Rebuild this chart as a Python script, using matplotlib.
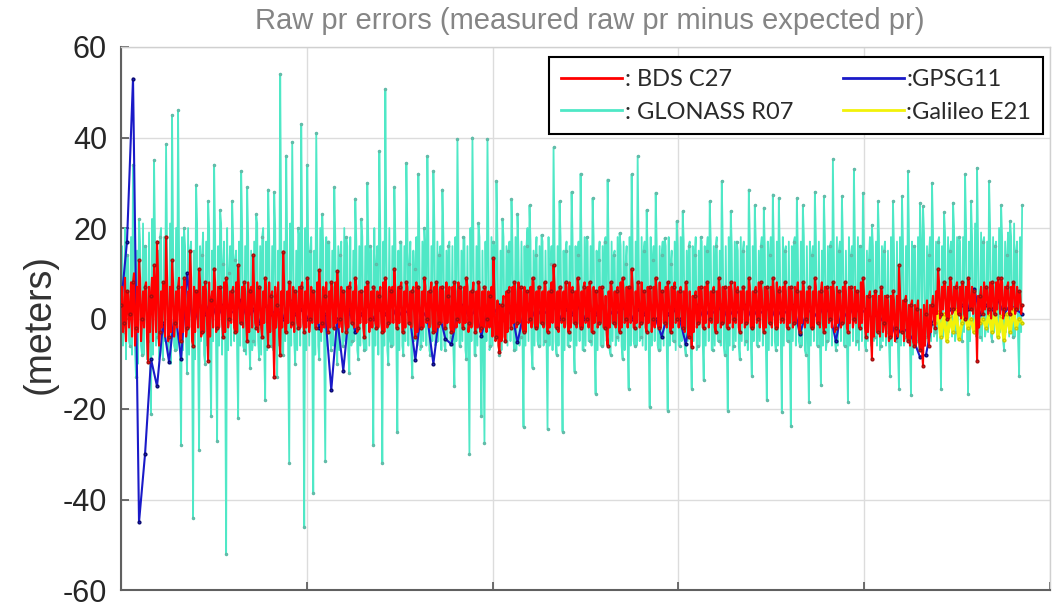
import numpy as np
import matplotlib.pyplot as plt
from matplotlib.lines import Line2D

plt.rcParams['font.family'] = ['Liberation Sans', 'DejaVu Sans']
plt.rcParams['axes.unicode_minus'] = False

# raw pseudorange errors (m), equally spaced in time
# *_r07 / *_c27: individual samples (spikes), *_band_hi / *_band_lo: the dense
# core of the trace read between two consecutive samples
glonass_r07 = [
    5, -3, 14, -6, 34, -13, 22, -8, 16, -5,
    -21, 35, -4, 18, -9, 38.5, -5, 45, -7, 46,
    -28, 20, -12, 15, -44, 29.6, -29, 14, -10, 26,
    -21.5, 34, -27, 24, 12, -52, 10, 26, 13, -22,
    32.6, -7, 29, -11, -5, 23, -9, 18, -18, 28.5,
    -6, 28, -13, 54, -8, 36, -32, 39, -10, 20,
    43, -46, 34, 15, -38.5, 41, -9, 23, -31.5, 17,
    -7, 29, -10, 14, -6, 18, -12, -5, 26.5, -9,
    22, -7, 30, 16, -28, 12, 37, -32, 50.7, -10,
    -6, 29, -25, 17, -8, 34.4, 12, -13, 11, 32,
    -6, 20, 35.9, -8, 32.6, -5, 14, 28.5, -7, 16,
    -4, -15, 39.6, -6, 18, -9, -30, 40, -8, 21,
    -21.5, -27.5, 39.6, -6, 17, 30.4, -8, 22, -5, 15,
    26.3, -7, 23, -4, -24, 16, 25, -11, 14, -6,
    18.5, -5, -24.5, 12, 37.8, -8, 25.9, -25, 15, -6,
    28, -11.8, 14, 32, -7, 18, -5, 26.6, -16.7, 13,
    -6, 17, 30.7, -8, 14, -4, 18.9, -9, 12, -15.5,
    31.9, -6, 35.9, -4, 15, 24, -19.6, 13, 27.8, -7,
    14, 17.8, -20.4, 12, -5, 21.5, -6, 23.7, -8, 16,
    -15.5, 14, -6, 18, -13.7, 15, 25.9, -7, 16, -5,
    30.4, -8, -20.4, 23.7, -6, 17, -9, 15, -5, 28.5,
    -12.6, 25, -6, 16, 24.5, -18, 14, 27.4, -7, 26.6,
    -20.7, 15, -5, -23.7, 17, 26.6, -6, 25, -8, -18.5,
    14, 28, -6, -14.8, 27, -5, 16, 35.2, -7, 15,
    27, -6, -18.5, 14, 33, -5, 16, 27.8, -7, 13,
    20.7, -4, 25.9, -6, 15, -3, -12.6, 25.9, -5, -15.5,
    27, -4, 32.6, -17, 16, -5, 25.5, 24.8, -4, 14,
    30, -3, 17, -15.5, 23.5, -4, 15, 25.6, -3, 18,
    -5, 31.9, -16.7, 25.9, -3, 33.3, -4, 17, -2, 30.4,
    -5, 16, -3, 25, -7, 14, 21.5, -4, 15, -12.6,
    25,
]
glonass_band_hi = [
    16, 20, 14, 18, 22, 15, 17, 21, 16, 19,
    22, 17, 15, 20, 18, 16, 21, 17, 20, 15,
    18, 16, 20, 17, 15, 21, 16, 19, 17, 20,
    15, 18, 16, 21, 17, 20, 16, 18, 15, 17,
    20, 16, 18, 15, 17, 21, 16, 20, 17, 18,
    16, 20, 15, 18, 17, 16, 21, 17, 15, 18,
    17, 20, 16, 18, 15, 17, 20, 16, 18, 17,
    15, 18, 16, 17, 20, 16, 18, 15, 17, 16,
    18, 16, 17, 15, 20, 16, 18, 17, 16, 20,
    16, 18, 15, 17, 16, 20, 17, 15, 18, 16,
    17, 15, 18, 16, 20, 17, 16, 18, 15, 17,
    16, 18, 17, 15, 18, 16, 20, 17, 16, 18,
    15, 17, 16, 18, 16, 17, 15, 18, 16, 17,
    16, 18, 15, 17, 16, 20, 17, 15, 18, 16,
    17, 15, 18, 16, 17, 16, 18, 15, 17, 16,
    18, 16, 17, 15, 18, 17, 16, 18, 15, 17,
    16, 18, 16, 17, 15, 18, 16, 17, 16, 18,
    15, 17, 16, 18, 17, 15, 18, 16, 17, 16,
    17, 16, 18, 15, 17, 16, 18, 17, 15, 17,
    16, 18, 15, 17, 16, 18, 17, 16, 18, 15,
    17, 16, 18, 16, 17, 15, 18, 17, 16, 18,
    16, 17, 15, 18, 16, 17, 18, 16, 17, 15,
    18, 16, 17, 16, 18, 15, 17, 18, 16, 17,
    16, 18, 17, 15, 18, 16, 17, 16, 18, 17,
    17, 15, 18, 16, 17, 18, 16, 17, 15, 18,
    16, 17, 18, 16, 17, 15, 18, 16, 17, 18,
    17, 16, 18, 17, 16, 18, 17, 19, 16, 18,
    19, 17, 18, 16, 19, 18, 17, 20, 18, 17,
    18, 20, 17, 18, 21, 17, 19, 18, 17, 20,
    18, 17, 20, 18, 17, 19, 18, 21, 17, 18,
]
glonass_band_lo = [
    -6, -9, -5, -8, -7, -10, -6, -8, -9, -5,
    -8, -6, -9, -7, -5, -8, -10, -6, -7, -9,
    -7, -5, -8, -6, -9, -7, -5, -8, -6, -7,
    -5, -7, -6, -8, -5, -7, -6, -5, -8, -6,
    -6, -8, -5, -7, -6, -5, -8, -6, -7, -5,
    -7, -5, -6, -8, -5, -7, -6, -5, -7, -6,
    -5, -7, -6, -5, -8, -6, -5, -7, -6, -5,
    -6, -5, -7, -6, -5, -8, -6, -5, -7, -6,
    -5, -7, -6, -5, -6, -8, -5, -6, -7, -5,
    -6, -5, -7, -6, -5, -6, -8, -5, -6, -7,
    -5, -6, -7, -5, -6, -5, -7, -6, -5, -6,
    -7, -5, -6, -5, -7, -6, -5, -8, -6, -5,
    -6, -5, -7, -6, -5, -6, -7, -5, -6, -5,
    -5, -7, -6, -5, -6, -5, -7, -6, -5, -6,
    -6, -5, -6, -7, -5, -6, -5, -7, -6, -5,
    -5, -6, -5, -7, -6, -5, -6, -5, -7, -6,
    -6, -5, -7, -5, -6, -5, -6, -7, -5, -6,
    -5, -6, -5, -6, -7, -5, -6, -5, -6, -7,
    -6, -5, -6, -5, -7, -6, -5, -6, -5, -6,
    -5, -7, -6, -5, -6, -5, -7, -6, -5, -6,
    -6, -5, -6, -7, -5, -6, -5, -6, -7, -5,
    -5, -6, -5, -6, -5, -7, -6, -5, -6, -5,
    -6, -5, -7, -5, -6, -5, -6, -7, -5, -6,
    -5, -6, -5, -6, -7, -5, -6, -5, -6, -5,
    -6, -5, -6, -5, -6, -7, -5, -6, -5, -6,
    -5, -6, -7, -5, -6, -5, -6, -5, -7, -6,
    -6, -5, -6, -8, -6, -7, -5, -6, -4, -5,
    -4, -5, -3, -4, -5, -3, -4, -5, -3, -4,
    -3, -4, -5, -3, -4, -3, -5, -4, -3, -4,
    -3, -4, -3, -5, -3, -4, -3, -4, -5, -3,
]

bds_c27 = [
    3, -1, 6, 1, 8, -2, 12.9, 0, 7, -9.6,
    5, 11.8, 17, -3, 8, 18.1, -4, 12.9, -1, 7,
    -5, 9, -2, 15, -6, 6, 11, -3, 8, -9.3,
    4, 11, -2, 7, -4, 9, 0, 6, -3, 11.8,
    -1, 8, -5, 6, 14.1, -2, 7, -4, 9, -6,
    5, -13, 3, -8, 14.8, -3, 8, -1, 6, -2,
    7, -3, 9, 0, 6, -2, 10.7, -1, 5, -3,
    8, -2, 10.4, 0, 6, -3, 7, -1, 9, -2,
    6, -4, 8, 0, 7, -2, 5, -3, 9, -1,
    6, 11, -2, 7, -3, 8, -1, 6, -4, 7,
    -2, 9, 0, 6, -3, 8, -1, 7, -2, 5,
    -3, 8, 0, 7, -2, 9, -1, 6, -3, 8,
    -2, 7, 0, 5, 13.3, -4, -7.4, 3, -5, 6,
    -2, 8, -1, 7, -3, 6, 0, 9, -2, 7,
    -1, 8, -3, 6, 11.8, -2, 7, 0, 8, -3,
    6, -1, 9, -2, 7, 0, 8, -3, 6, -1,
    7, -2, -6, 8, -1, 6, -3, 9, 0, 7,
    11, -2, 8, -1, 6, -3, 7, 0, 9, -2,
    6, -1, 8, -3, 7, 0, 6, -2, 8, -4,
    -6.3, 5, -1, 7, -2, 8, 0, 6, -3, 9,
    -1, 7, -2, 8, 0, 6, -3, 7, -1, 9,
    -2, 6, 0, 8, -3, 7, -1, 9, -2, 6,
    0, 8, -2, 7, -1, 6, -3, 8, 0, 7,
    -2, 9, -1, 6, -3, 7, 0, 8, -2, 6,
    -1, 8, -3, 7, 0, 6, -2, 9, -4, 5,
    -8.9, 6, -3, 7, -1, 5, -4, 6, -2, 11.8,
    -3, 4, -5, 3, -6, 2, -7, -10.4, 1, -6,
    3, -2, 11, 1, 8, 0, 9, 2, 7, 1,
    8, 0, 9, 2, 6, -9.3, 5, 1, 7, 2,
    8, 1, 9, 8.9, 2, 7, 1, 8, 2, 6,
    3,
]
bds_band_hi = [
    7, 9, 6, 8, 10, 7, 9, 6, 8, 7,
    9, 7, 10, 6, 8, 9, 7, 8, 6, 9,
    7, 8, 6, 9, 7, 6, 8, 7, 6, 8,
    6, 8, 7, 6, 8, 7, 6, 7, 8, 6,
    7, 6, 8, 7, 6, 8, 7, 6, 7, 8,
    6, 7, 8, 6, 7, 6, 8, 7, 6, 7,
    8, 6, 7, 7, 6, 8, 6, 7, 8, 6,
    7, 8, 6, 7, 6, 7, 8, 6, 7, 6,
    6, 7, 8, 6, 7, 6, 7, 8, 6, 7,
    7, 6, 7, 8, 6, 7, 6, 7, 8, 6,
    6, 7, 6, 8, 7, 6, 7, 6, 8, 7,
    7, 6, 8, 6, 7, 7, 6, 8, 6, 7,
    6, 7, 6, 7, 5, 4, 3, 5, 6, 7,
    7, 6, 8, 6, 7, 6, 7, 8, 6, 7,
    6, 7, 6, 8, 7, 6, 7, 6, 7, 8,
    7, 6, 7, 6, 8, 7, 6, 7, 6, 7,
    6, 5, 6, 7, 6, 7, 8, 6, 7, 6,
    7, 6, 7, 8, 6, 7, 6, 7, 6, 8,
    6, 7, 6, 7, 8, 6, 7, 6, 7, 6,
    5, 6, 7, 6, 7, 8, 6, 7, 6, 7,
    7, 6, 7, 6, 8, 7, 6, 7, 6, 7,
    6, 7, 8, 6, 7, 6, 7, 6, 8, 7,
    7, 6, 7, 6, 7, 8, 6, 7, 6, 7,
    6, 7, 6, 8, 7, 6, 7, 6, 7, 6,
    7, 6, 7, 6, 7, 6, 8, 6, 5, 6,
    5, 6, 5, 6, 5, 4, 5, 4, 5, 6,
    4, 5, 3, 4, 3, 4, 2, 3, 4, 3,
    5, 6, 8, 7, 8, 7, 8, 7, 8, 7,
    8, 7, 8, 7, 6, 5, 7, 8, 7, 8,
    7, 8, 7, 8, 7, 8, 7, 8, 7, 6,
]
bds_band_lo = [
    -3, -5, -2, -4, -6, -3, -5, -2, -4, -3,
    -5, -3, -6, -2, -4, -5, -3, -4, -2, -5,
    -3, -4, -2, -5, -3, -2, -4, -3, -2, -4,
    -2, -3, -2, -1, -3, -2, -1, -2, -3, -1,
    -2, -1, -3, -2, -1, -3, -2, -1, -2, -3,
    -3, -2, -4, -2, -3, -1, -2, -3, -1, -2,
    -1, -2, -3, -1, -2, -1, -3, -2, -1, -2,
    -2, -1, -2, -3, -1, -2, -1, -2, -3, -1,
    -2, -1, -3, -2, -1, -2, -1, -3, -2, -1,
    -1, -2, -1, -3, -2, -1, -2, -1, -3, -2,
    -2, -1, -2, -1, -3, -2, -1, -2, -1, -2,
    -3, -2, -1, -2, -1, -3, -2, -1, -2, -3,
    -2, -3, -2, -4, -5, -6, -5, -4, -3, -2,
    -1, -2, -1, -2, -3, -1, -2, -1, -2, -1,
    -2, -1, -2, -1, -2, -3, -1, -2, -1, -2,
    -1, -2, -1, -2, -1, -2, -3, -1, -2, -1,
    -2, -3, -2, -1, -2, -1, -2, -1, -2, -1,
    -2, -1, -2, -1, -2, -1, -3, -2, -1, -2,
    -1, -2, -1, -2, -1, -2, -1, -3, -2, -1,
    -3, -2, -1, -2, -1, -2, -1, -2, -1, -2,
    -1, -2, -1, -2, -1, -2, -1, -2, -1, -2,
    -2, -1, -2, -1, -2, -1, -2, -1, -2, -1,
    -1, -2, -1, -2, -1, -2, -1, -2, -1, -2,
    -2, -1, -2, -1, -2, -1, -2, -3, -1, -2,
    -1, -2, -1, -2, -1, -2, -1, -2, -3, -4,
    -4, -3, -4, -3, -4, -5, -4, -5, -4, -3,
    -5, -4, -6, -5, -6, -5, -7, -6, -4, -3,
    0, 1, 0, 2, 1, 0, 1, 2, 1, 0,
    1, 0, 2, 1, 0, -2, 1, 2, 1, 0,
    1, 2, 1, 0, 2, 1, 2, 1, 2, 1,
]

gps_g11 = [
    3, 17, 53, -45, -30, -9, -15, -1, -9.6, 2,
    -9, 10, -2, 3, 1, 4, 0, 3, 2, 1,
    4, 0, 2, -1, 3, 1, 2, 0, 4, 1,
    2, 0, 3, -2, 1, -15.8, 0, -11.5, 2, -3,
    1, 3, 0, 2, 1, 3, 0, 2, 1, -9.1,
    2, 0, -10, 1, -4.5, -5.7, 1, 3, 0, 2,
    -3.8, 2, 1, 3, 0, 2, -5.3, 1, 3, 0,
    2, 1, 3, 0, 2, 1, 3, 0, 2, 1,
    3, 0, 2, 1, 3, 0, 2, 1, 3, 0,
    -4, 1, 2, 0, -5.6, 1, 3, 0, 2, 1,
    3, 0, 2, 1, 3, 0, 2, 1, 3, 0,
    2, 1, 3, -3.5, 1, 2, 0, 3, 1, -5,
    2, 0, 3, 1, 2, 0, 1, -1, 0, -4,
    -2, -3, -5, -8.5, -8, -1, 1, 0, 2, 1,
    3, 2, 6.5, 1, 3, 2, 4, 1, 3, 2, 1,
]

# Galileo only shows up at the end of the run
galileo_e21 = [
    -1, 1.5, -4, 1, -5, 0.5, -3, 2, -4.5, -1,
    1, -2, 0, -3, 1, -1, 0, -2, 1, -3,
    2, -4, 0.5, -4.7, 1, -3, 2, -2, 0, -1,
]


def weave(samples, band_hi, band_lo):
    out = []
    for i in range(len(band_hi)):
        out += [samples[i], band_hi[i], band_lo[i]]
    out.append(samples[-1])
    return out


glo = weave(glonass_r07, glonass_band_hi, glonass_band_lo)
bds = weave(bds_c27, bds_band_hi, bds_band_lo)

t_end = 4.85
t_glo = np.linspace(0, t_end, len(glo))
t_bds = np.linspace(0, t_end, len(bds))
t_gps = np.linspace(0, t_end, len(gps_g11))
t_gal = np.linspace(4.38, t_end, len(galileo_e21))

c_bds = '#ff0000'
c_glo = '#4fe8c6'
c_gps = '#1a1ac8'
c_gal = '#f2f20a'

fig = plt.figure(figsize=(10.56, 6.05), dpi=100)
ax = fig.add_axes([121 / 1056, 1 - 590 / 605, 929 / 1056, 543 / 605])

ax.plot(t_glo, glo, color=c_glo, lw=1.3, marker='.', ms=3, markevery=3,
        mec='#62b8a6', zorder=2)
ax.plot(t_gps, gps_g11, color=c_gps, lw=1.5, marker='.', ms=4,
        mec='#0a0a70', zorder=3)
ax.plot(t_gal, galileo_e21, color=c_gal, lw=2.4, marker='.', ms=4,
        mec='#c8c800', zorder=3)
ax.plot(t_bds, bds, color=c_bds, lw=1.5, marker='.', ms=4, markevery=3,
        mec='#a01010', zorder=4)

ax.set_xlim(0, 5)
ax.set_ylim(-60, 60)
ax.set_xticks(range(0, 6))
ax.set_yticks(range(-60, 61, 20))
ax.tick_params(axis='x', direction='in', labelbottom=False, length=6,
               width=1.2, color='#555555')
ax.tick_params(axis='y', direction='in', labelsize=22, length=6, width=1.2,
               color='#555555', labelcolor='#262626', pad=10)
ax.grid(True, color='#dcdcdc', lw=1)
ax.set_axisbelow(True)
for side in ['left', 'bottom']:
    ax.spines[side].set_color('#606060')
    ax.spines[side].set_linewidth(1.5)
for side in ['top', 'right']:
    ax.spines[side].set_color('#d0d0d0')
    ax.spines[side].set_linewidth(1)

fig.text(590 / 1056, 1 - 21 / 605,
         'Raw pr errors (measured raw pr minus expected pr)',
         ha='center', va='center', fontsize=21, color='#858585')
fig.text(40 / 1056, 1 - 324 / 605, '(meters)', rotation=90,
         ha='center', va='center', fontsize=27, color='#333333')

handles = [Line2D([], [], color=c, lw=2) for c in [c_bds, c_glo, c_gps, c_gal]]
labels = [': BDS C27', ': GLONASS R07', ':GPSG11', ':Galileo E21']
leg = ax.legend(handles, labels, ncol=2, loc='upper right',
                bbox_to_anchor=(0.9925, 0.9816), borderaxespad=0,
                prop={'family': 'Lato', 'size': 17},
                frameon=True, fancybox=False, framealpha=1,
                edgecolor='black', handlelength=2.6, handletextpad=0.1,
                columnspacing=2.1, labelspacing=0.5, borderpad=0.5)
leg.get_frame().set_linewidth(1.5)
for txt in leg.get_texts():
    txt.set_color('#2a2a2a')

fig.savefig('out.png', dpi=100)
